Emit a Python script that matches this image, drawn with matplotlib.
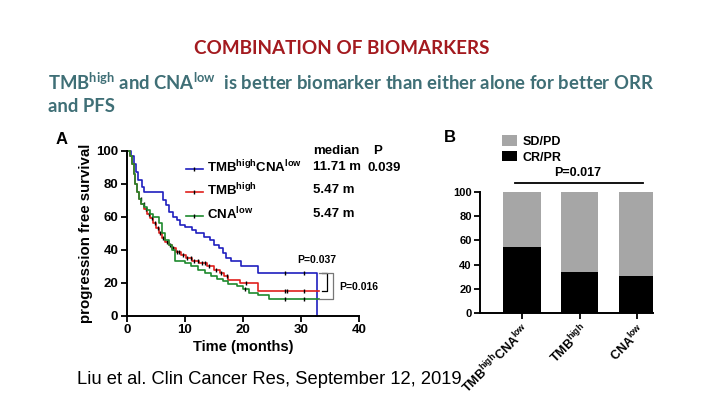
import numpy as np
import matplotlib
matplotlib.use('Agg')
import matplotlib.pyplot as plt

# ---- panel A: progression free survival (Kaplan-Meier steps) ----
blue_t = [0, 0.8, 1.2, 1.6, 2.0, 2.6, 3.0, 6.3, 6.8, 7.3, 8.0, 8.6, 9.2, 10.0, 11.2,
          12.0, 13.3, 14.4, 15.0, 15.8, 16.5, 17.0, 18.0, 19.6, 22.6, 32.8]
blue_s = [100, 97, 92, 87, 82, 78, 75, 70, 67, 63, 60, 58, 55, 54, 52,
          50, 48, 46, 43, 41, 38, 35, 33, 30, 25.8, 0]

red_t = [0, 0.6, 0.9, 1.2, 1.5, 1.8, 2.1, 2.5, 3.0, 3.5, 4.0, 4.5, 5.0, 5.5, 6.0, 6.6,
         7.2, 7.8, 8.5, 9.3, 10.2, 11.2, 12.5, 13.8, 15.0, 16.0, 16.8, 17.5, 19.5, 22.6, 33.0]
red_s = [100, 97, 92, 86, 80, 75, 71, 68, 65, 62, 59, 56, 53, 50, 47, 45,
         43, 41, 39, 37, 35, 33.5, 32, 30, 28, 26, 24, 22, 20, 15.2, 15.2]

green_t = [0, 0.6, 0.9, 1.2, 1.5, 1.8, 2.1, 2.5, 3.0, 3.5, 4.0, 4.5, 5.5, 6.0, 6.6, 7.2,
           7.8, 8.3, 10.0, 11.0, 12.2, 13.5, 14.5, 15.5, 16.5, 17.5, 19.0, 20.0, 21.0,
           22.6, 24.5, 33.0]
green_s = [100, 97, 92, 86, 80, 75, 71, 68, 66, 64, 62, 60, 56, 50, 46, 43,
           40, 33, 32, 30, 28, 26, 24, 22.5, 21, 19.5, 18, 16.5, 14, 12.5, 10.5, 10.5]

# censor marks (months)
blue_cens = [27.3, 30.5]
red_cens = [2.4, 2.9, 3.3, 3.8, 4.3, 4.8, 5.3, 5.8, 6.3, 6.9, 7.4, 8.0, 8.7, 9.0, 9.6,
            10.4, 11.0, 11.6, 12.2, 12.9, 13.5, 14.2, 15.4, 16.3, 17.2, 20.5, 27.2, 27.6, 30.5]
green_cens = [20.3, 27.3, 30.5]

legend_labels = ['TMB$^{\\mathregular{high}}$CNA$^{\\mathregular{low}}$',
                 'TMB$^{\\mathregular{high}}$', 'CNA$^{\\mathregular{low}}$']
medians = ['11.71 m', '5.47 m', '5.47 m']

# ---- panel B: objective response ----
groups = ['TMB$^{\\mathregular{high}}$CNA$^{\\mathregular{low}}$',
          'TMB$^{\\mathregular{high}}$', 'CNA$^{\\mathregular{low}}$']
cr_pr = [54.3, 33.7, 30.7]
sd_pd = [100 - v for v in cr_pr]

FONT = 'Liberation Sans'


def step_value(t, s, x):
    i = np.searchsorted(t, x, side='right') - 1
    return np.array(s)[i]


def style_axis(ax, size):
    for side in ['top', 'right']:
        ax.spines[side].set_visible(False)
    for side in ['left', 'bottom']:
        ax.spines[side].set_linewidth(1.4)
    ax.tick_params(width=1.3, length=4, labelsize=size, pad=2)
    for lab in ax.get_xticklabels() + ax.get_yticklabels():
        lab.set_fontweight('bold')
        lab.set_family(FONT)


fig = plt.figure(figsize=(7.2, 4.05), dpi=100)

# slide text
fig.text(0.474, 0.881, 'COMBINATION OF BIOMARKERS', ha='center', va='center',
         color='#a31a1f', fontsize=13.6, fontweight='bold', family='Lato')
fig.text(48 / 720, 1 - 82 / 405,
         'TMB$^{\\mathregular{high}}$ and CNA$^{\\mathregular{low}}$  is better biomarker '
         'than either alone for better ORR',
         ha='left', va='center', color='#3f6f76', fontsize=13.3, fontweight='bold', family='Lato')
fig.text(48 / 720, 1 - 107 / 405, 'and PFS', ha='left', va='center',
         color='#3f6f76', fontsize=13.3, fontweight='bold', family='Lato')
fig.text(77 / 720, 1 - 380 / 405, 'Liu et al. Clin Cancer Res, September 12, 2019',
         ha='left', va='center', fontsize=13.2, family=FONT)

# panel A
axA = fig.add_axes([126.7 / 720, 1 - 316 / 405, 232.6 / 720, 165.3 / 405])
colors = ['#1f1fbf', '#e0201c', '#1e8a2e']
series = [(blue_t, blue_s, blue_cens), (red_t, red_s, red_cens), (green_t, green_s, green_cens)]
for (t, s, cens), c in zip(series, colors):
    axA.step(t, s, where='post', color=c, lw=1.2, clip_on=False)
    axA.plot(cens, step_value(t, s, cens), ls='none', marker='|', ms=3.5,
             mew=1.0, color='black', clip_on=False)
axA.set_xlim(0, 40)
axA.set_ylim(0, 100)
axA.set_xticks([0, 10, 20, 30, 40])
axA.set_yticks([0, 20, 40, 60, 80, 100])
style_axis(axA, 9.5)
axA.set_xlabel('Time (months)', fontsize=10.5, fontweight='bold', family=FONT, labelpad=3)
axA.set_ylabel('progression free survival', fontsize=10.8, fontweight='bold', family=FONT,
               labelpad=2)

# legend drawn in data space
leg_y = [89, 75, 60.5]
for lab, c, y, med in zip(legend_labels, colors, leg_y, medians):
    axA.plot([10.2, 13.1], [y, y], color=c, lw=1.2)
    axA.plot([11.65], [y], marker='|', ms=3.5, mew=1.0, color='black')
    axA.text(13.8, y + 1, lab, fontsize=9.5, fontweight='bold', family=FONT, va='center')
    axA.text(32.1, y + 1, med, fontsize=9.5, fontweight='bold', family=FONT, va='center')
axA.text(32.1, 100, 'median', fontsize=9.5, fontweight='bold', family=FONT, va='center')
axA.text(43.2, 100, 'P', fontsize=9.5, fontweight='bold', family=FONT, va='center',
         ha='center', clip_on=False)
axA.text(41.4, 89.5, '0.039', fontsize=9.5, fontweight='bold', family=FONT, va='center',
         clip_on=False)

# p-value brackets
axA.plot([33.5, 34.4, 34.4, 33.5], [25.8, 25.8, 15.2, 15.2], color='black', lw=0.9,
         clip_on=False)
axA.plot([33.0, 35.5, 35.5, 33.0], [25.8, 25.8, 10.5, 10.5], color='#777777', lw=0.9,
         clip_on=False)
axA.text(32.7, 34, 'P=0.037', fontsize=7.5, fontweight='bold', family=FONT,
         ha='center', va='center')
axA.text(36.6, 17.8, 'P=0.016', fontsize=7.5, fontweight='bold', family=FONT,
         ha='left', va='center', clip_on=False)
fig.text(62 / 720, 1 - 140 / 405, 'A', fontsize=12, fontweight='bold', family=FONT,
         ha='center', va='center')

# panel B
axB = fig.add_axes([480 / 720, 1 - 313 / 405, 173 / 720, 121 / 405])
x = np.arange(len(groups))
b1 = axB.bar(x, cr_pr, width=0.65, color='black', label='CR/PR')
b2 = axB.bar(x, sd_pd, width=0.65, bottom=cr_pr, color='#a6a6a6', label='SD/PD')
axB.set_xlim(-0.727, 2.27)
axB.set_ylim(0, 100)
axB.set_yticks([0, 20, 40, 60, 80, 100])
axB.set_xticks(x)
axB.set_xticklabels(groups, rotation=45, ha='right', rotation_mode='anchor')
style_axis(axB, 8)
axB.tick_params(axis='x', labelsize=9)
axB.legend([b2, b1], ['SD/PD', 'CR/PR'], loc='lower left', bbox_to_anchor=(0.125, 1.235),
           frameon=False, prop={'family': FONT, 'weight': 'bold', 'size': 9},
           handlelength=1.2, handleheight=0.9, handletextpad=0.5, labelspacing=0.25,
           borderaxespad=0, borderpad=0)
axB.plot([-0.12, 2.1], [107.5, 107.5], color='black', lw=1.3, clip_on=False)
axB.text(0.97, 116, 'P=0.017', fontsize=9, fontweight='bold', family=FONT,
         ha='center', va='center', clip_on=False)
fig.text(450 / 720, 1 - 137 / 405, 'B', fontsize=12, fontweight='bold', family=FONT,
         ha='center', va='center')

fig.savefig('out.png', dpi=100)
